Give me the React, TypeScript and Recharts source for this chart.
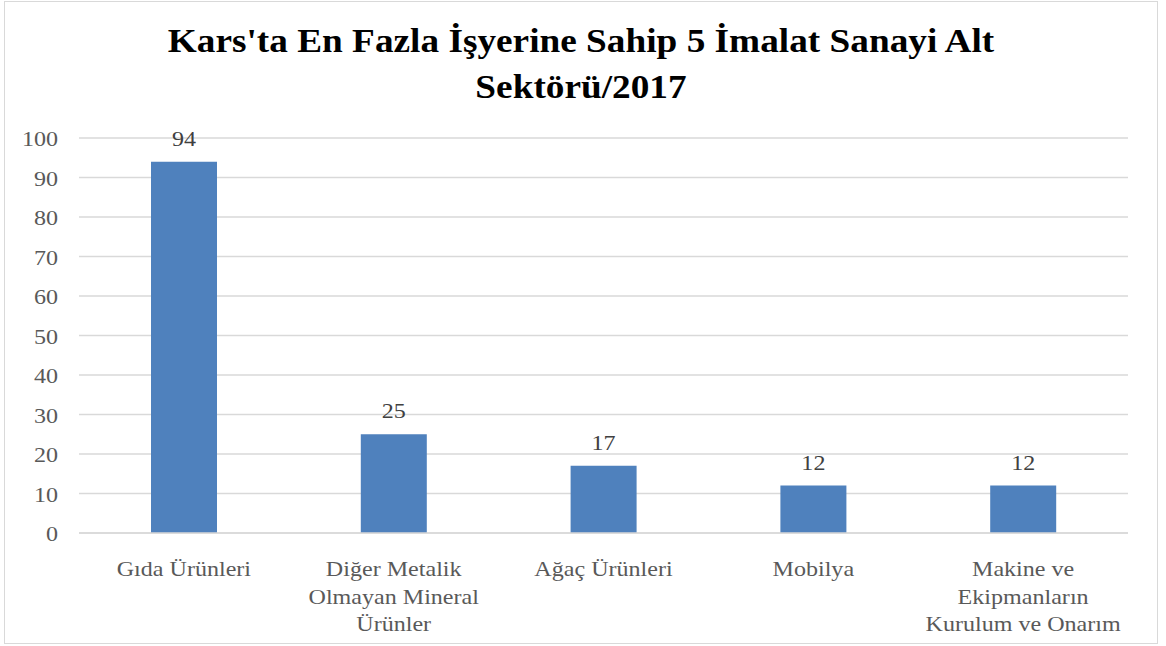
import { Bar, BarChart, CartesianGrid, LabelList, XAxis, YAxis } from "recharts";

const categories = [
  "Gıda Ürünleri",
  "Diğer Metalik\nOlmayan Mineral\nÜrünler",
  "Ağaç Ürünleri",
  "Mobilya",
  "Makine ve\nEkipmanların\nKurulum ve Onarım",
];
const values = [94, 25, 17, 12, 12];
const yTicks = [0, 10, 20, 30, 40, 50, 60, 70, 80, 90, 100];
const titleLines = ["Kars'ta En Fazla İşyerine Sahip 5 İmalat Sanayi Alt", "Sektörü/2017"];

const data = categories.map((name, i) => ({ name, value: values[i] }));

const FONT = '"Liberation Serif", "Times New Roman", serif';
// the reference text is a little wider than Times at its height
const SX = 1.12;

const CategoryTick = (props: any) => {
  const { x, y, payload } = props;
  const lines = String(payload.value).split("\n");
  return (
    <g>
      {lines.map((line: string, i: number) => (
        <text
          key={i}
          transform={`translate(${x},${y + 35 + i * 27.5}) scale(${SX},1)`}
          textAnchor="middle"
          style={{ fill: "#595959", fontSize: 21.5, fontFamily: FONT }}
        >
          {line}
        </text>
      ))}
    </g>
  );
};

const ValueTick = (props: any) => {
  const { x, y, payload } = props;
  return (
    <text
      transform={`translate(${x - 13},${y + 8}) scale(${SX},1)`}
      textAnchor="end"
      style={{ fill: "#595959", fontSize: 21.5, fontFamily: FONT }}
    >
      {payload.value}
    </text>
  );
};

const BarValue = (props: any) => {
  const { x, y, width, value } = props;
  return (
    <text
      transform={`translate(${x + width / 2},${y - 16}) scale(${SX},1)`}
      textAnchor="middle"
      style={{ fill: "#404040", fontSize: 21.5, fontFamily: FONT }}
    >
      {value}
    </text>
  );
};

export default function App() {
  return (
    <div style={{ position: "absolute", left: 0, top: 0, width: 1166, height: 646, background: "#fff", fontFamily: FONT }}>
      <div
        style={{
          position: "absolute",
          left: 4,
          top: 1,
          width: 1154,
          height: 643,
          boxSizing: "border-box",
          border: "1.5px solid #d9d9d9",
        }}
      />
      <svg style={{ position: "absolute", left: 0, top: 0 }} width={1166} height={120}>
        {titleLines.map((line, i) => (
          <text
            key={i}
            transform={`translate(581,${52 + i * 45.5}) scale(1.13,1)`}
            textAnchor="middle"
            style={{ fontSize: 33, fontWeight: "bold", fontFamily: FONT, fill: "#000" }}
          >
            {line}
          </text>
        ))}
      </svg>
      <div style={{ position: "absolute", left: 0, top: 0 }}>
        <BarChart width={1166} height={646} data={data} margin={{ top: 138, right: 38, bottom: 13, left: 19 }}>
          <CartesianGrid vertical={false} stroke="#d9d9d9" strokeWidth={1.3} />
          <XAxis
            dataKey="name"
            height={100}
            axisLine={{ stroke: "#d9d9d9", strokeWidth: 1.3 }}
            tickLine={false}
            interval={0}
            tick={<CategoryTick />}
          />
          <YAxis
            width={60}
            domain={[0, 100]}
            ticks={yTicks}
            axisLine={false}
            tickLine={false}
            tick={<ValueTick />}
          />
          <Bar dataKey="value" fill="#4f81bd" barSize={66} isAnimationActive={false}>
            <LabelList dataKey="value" content={<BarValue />} />
          </Bar>
        </BarChart>
      </div>
    </div>
  );
}
